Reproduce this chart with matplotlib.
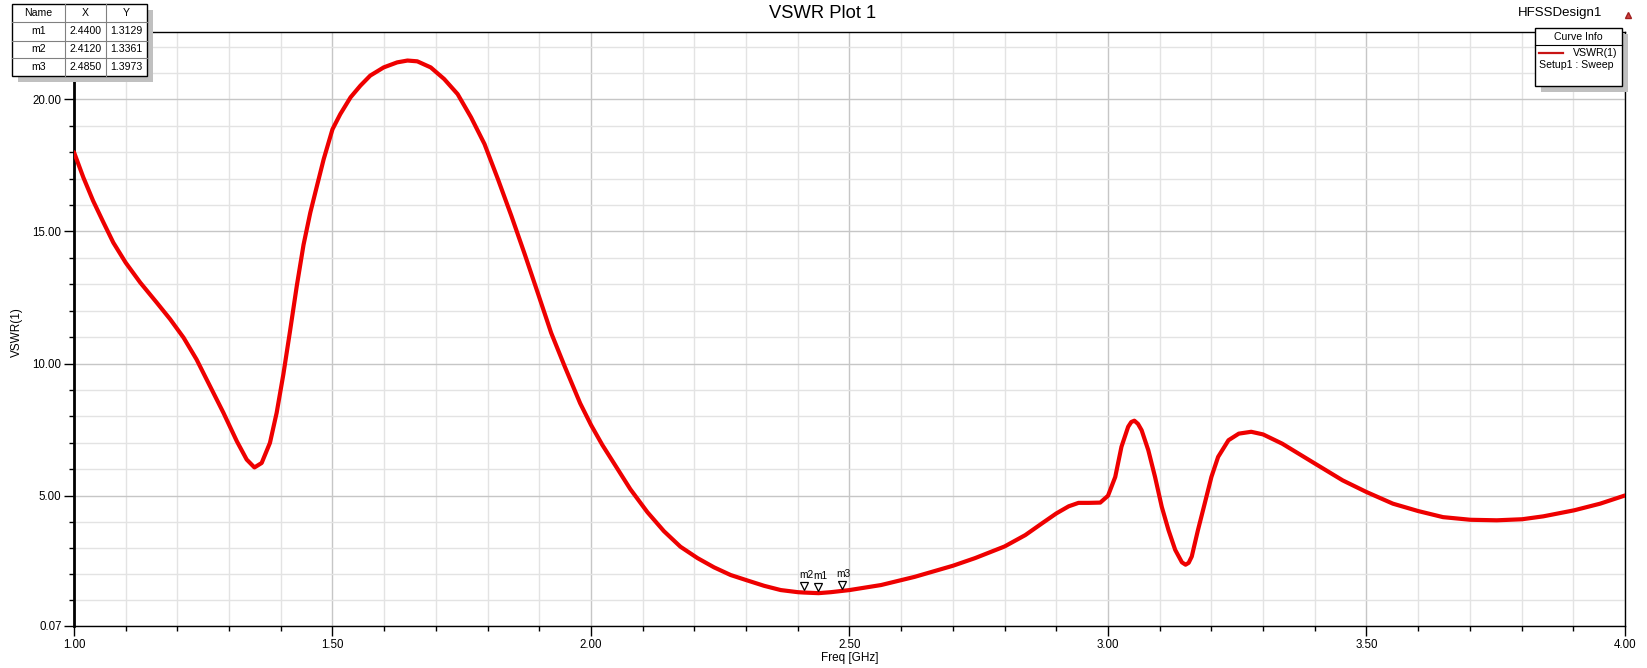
import numpy as np
import matplotlib
matplotlib.use("Agg")
import matplotlib.pyplot as plt
from matplotlib.patches import Rectangle
from matplotlib.transforms import offset_copy

plt.rcParams['font.family'] = ['Liberation Sans', 'DejaVu Sans']

# values
freq = [1.000, 1.018, 1.037, 1.057, 1.076, 1.100, 1.128, 1.160, 1.186, 1.212,
        1.237, 1.263, 1.289, 1.315, 1.334, 1.349, 1.363, 1.379, 1.392, 1.405,
        1.418, 1.431, 1.444, 1.457, 1.470, 1.483, 1.500, 1.515, 1.535, 1.554,
        1.573, 1.599, 1.625, 1.645, 1.664, 1.690, 1.716, 1.742, 1.768, 1.794,
        1.820, 1.846, 1.872, 1.897, 1.923, 1.949, 1.979, 2.000, 2.022, 2.044,
        2.076, 2.109, 2.141, 2.173, 2.206, 2.238, 2.270, 2.303, 2.335, 2.367,
        2.400, 2.412, 2.440, 2.464, 2.485, 2.500, 2.561, 2.626, 2.700, 2.743,
        2.800, 2.840, 2.872, 2.900, 2.924, 2.943, 2.963, 2.985, 3.000, 3.014,
        3.026, 3.039, 3.045, 3.051, 3.058, 3.065, 3.078, 3.091, 3.104, 3.117,
        3.130, 3.143, 3.150, 3.156, 3.162, 3.174, 3.187, 3.200, 3.213, 3.233,
        3.253, 3.277, 3.300, 3.337, 3.400, 3.454, 3.500, 3.551, 3.600, 3.648,
        3.701, 3.752, 3.801, 3.842, 3.902, 3.952, 4.000]
vswr = [18.00, 17.05, 16.16, 15.34, 14.58, 13.82, 13.07, 12.31, 11.68, 10.98,
        10.16, 9.15, 8.14, 7.06, 6.37, 6.07, 6.24, 7.00, 8.14, 9.60,
        11.25, 12.95, 14.50, 15.71, 16.73, 17.74, 18.87, 19.44, 20.08, 20.52,
        20.90, 21.21, 21.40, 21.47, 21.44, 21.21, 20.77, 20.20, 19.32, 18.31,
        16.98, 15.59, 14.13, 12.68, 11.16, 9.90, 8.50, 7.68, 6.92, 6.24,
        5.25, 4.38, 3.66, 3.07, 2.64, 2.29, 2.00, 1.79, 1.59, 1.43,
        1.35, 1.336, 1.313, 1.35, 1.397, 1.43, 1.62, 1.93, 2.35, 2.64,
        3.08, 3.51, 3.95, 4.33, 4.60, 4.73, 4.73, 4.74, 5.00, 5.71,
        6.85, 7.61, 7.79, 7.84, 7.72, 7.48, 6.72, 5.71, 4.58, 3.70,
        2.95, 2.48, 2.39, 2.46, 2.70, 3.70, 4.70, 5.71, 6.47, 7.10,
        7.35, 7.42, 7.32, 6.97, 6.22, 5.58, 5.14, 4.70, 4.42, 4.19,
        4.09, 4.07, 4.11, 4.22, 4.45, 4.70, 5.01]

marker_names = ['m1', 'm2', 'm3']
marker_x = [2.4400, 2.4120, 2.4850]
marker_y = [1.3129, 1.3361, 1.3973]

W, H = 1647, 668
fig = plt.figure(figsize=(W / 100, H / 100), dpi=100)
L, R, T, B = 74, 1625, 32, 626
ax = fig.add_axes([L / W, 1 - B / H, (R - L) / W, (B - T) / H])

ax.set_xlim(1.0, 4.0)
ax.set_ylim(0.07, 22.55)
ax.set_xticks(np.arange(1.0, 4.01, 0.5))
ax.set_xticks(np.arange(1.0, 4.001, 0.1), minor=True)
ax.set_xticklabels(['%.2f' % v for v in np.arange(1.0, 4.01, 0.5)])
yt = [0.07, 5, 10, 15, 20]
ax.set_yticks(yt)
ax.set_yticklabels(['%.2f' % v for v in yt])
ymin = list(np.linspace(0.07, 5, 6)[1:-1]) + [v for v in range(6, 23) if v % 5]
ax.set_yticks(ymin, minor=True)

ax.grid(which='minor', color='#e3e3e3', lw=1.0)
ax.grid(which='major', color='#c6c6c6', lw=1.0)
ax.set_axisbelow(True)
ax.tick_params(which='major', direction='out', length=7, width=1, labelsize=8.3, pad=2)
ax.tick_params(which='minor', direction='out', length=3.5, width=1)
for s in ax.spines.values():
    s.set_linewidth(1)
ax.spines['left'].set_linewidth(2)

ax.plot(freq, vswr, color='#ee0000', lw=3.0, solid_joinstyle='round',
        solid_capstyle='round', zorder=3)

tr = offset_copy(ax.transData, fig=fig, x=0, y=4.4, units='points')
ax.plot(marker_x, marker_y, linestyle='none', marker='v', ms=6, mfc='white',
        mec='black', mew=0.9, transform=tr, zorder=4)
for n, mx, my in zip(marker_names, marker_x, marker_y):
    ax.annotate(n, (mx, my), xytext=(1.5, 12.5), textcoords='offset points',
                ha='center', va='center', fontsize=7.3, zorder=5)

ax.set_xlabel('Freq [GHz]', fontsize=8.5, labelpad=1)
ax.set_ylabel('VSWR(1)', fontsize=8.5, labelpad=4)
ax.yaxis.set_label_coords(-(L - 23) / (R - L), 1 - (332 - T) / (B - T))

# overlay in pixel coordinates for the boxes
ov = fig.add_axes([0, 0, 1, 1], zorder=10)
ov.set_xlim(0, W)
ov.set_ylim(H, 0)
ov.axis('off')

fig.text(823 / W, 1 - 14 / H, 'VSWR Plot 1', ha='center', va='center', fontsize=13.2)
ov.text(1602, 13, 'HFSSDesign1', ha='right', va='center', fontsize=9.5)
ov.plot([1628], [15], marker='^', ms=5, color='#d04040', mec='#a02020')

# marker table
tx0, tx1, tx2, tx3 = 12, 65, 106, 147
rows_y = [4, 22, 41, 58, 76]
ov.add_patch(Rectangle((tx0 + 6, rows_y[0] + 6), tx3 - tx0, rows_y[-1] - rows_y[0],
                       fc='#c0c0c0', ec='none'))
ov.add_patch(Rectangle((tx0, rows_y[0]), tx3 - tx0, rows_y[-1] - rows_y[0],
                       fc='white', ec='none'))
for yy in rows_y[1:-1]:
    ov.plot([tx0, tx3], [yy, yy], color='#808080', lw=0.8)
for xx in [tx1, tx2]:
    ov.plot([xx, xx], [rows_y[0], rows_y[-1]], color='#808080', lw=0.8)
ov.add_patch(Rectangle((tx0, rows_y[0]), tx3 - tx0, rows_y[-1] - rows_y[0],
                       fc='none', ec='black', lw=1))
cols_c = [(tx0 + tx1) / 2, (tx1 + tx2) / 2, (tx2 + tx3) / 2]
table_rows = [['Name', 'X', 'Y']] + [[n, '%.4f' % x, '%.4f' % y]
                                     for n, x, y in zip(marker_names, marker_x, marker_y)]
for i, row in enumerate(table_rows):
    yc = (rows_y[i] + rows_y[i + 1]) / 2
    for c, txt in zip(cols_c, row):
        ov.text(c, yc, txt, ha='center', va='center', fontsize=7.6)

# curve info box
cx0, cx1, cy0, cy1 = 1535, 1622, 28, 86
ov.add_patch(Rectangle((cx0 + 6, cy0 + 6), cx1 - cx0, cy1 - cy0, fc='#c0c0c0', ec='none'))
ov.add_patch(Rectangle((cx0, cy0), cx1 - cx0, cy1 - cy0, fc='white', ec='black', lw=1))
ov.plot([cx0, cx1], [45, 45], color='black', lw=0.8)
ov.text((cx0 + cx1) / 2, 36.5, 'Curve Info', ha='center', va='center', fontsize=7.6)
ov.plot([1539, 1563], [53, 53], color='#c81414', lw=1.6)
ov.text(1617, 53, 'VSWR(1)', ha='right', va='center', fontsize=7.6)
ov.text(1539, 65, 'Setup1 : Sweep', ha='left', va='center', fontsize=7.6)

fig.savefig('out.png', dpi=100)
